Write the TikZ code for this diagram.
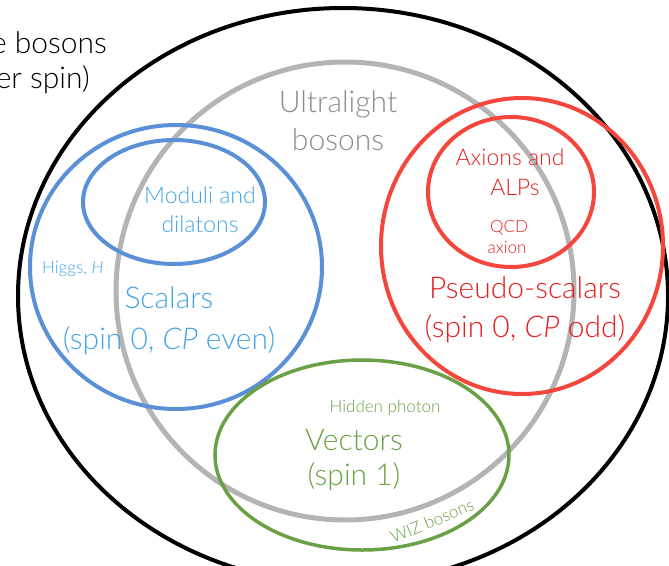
\documentclass[tikz,border=0pt]{standalone}
\usepackage{fontspec}
\setmainfont{Lato}[UprightFont=* Light, ItalicFont=* Light Italic]
\usetikzlibrary{positioning}

\definecolor{ulgray}{RGB}{180,180,180}
\definecolor{ultext}{RGB}{140,140,140}
\definecolor{scline}{RGB}{91,143,214}
\definecolor{sctext}{RGB}{70,165,230}
\definecolor{psline}{RGB}{244,70,60}
\definecolor{pstext}{RGB}{230,32,32}
\definecolor{vecline}{RGB}{106,160,70}

\tikzset{
  lbl/.style={inner sep=0pt, anchor=base},
  huge/.style={font=\fontsize{30}{36}\selectfont},
  mid/.style={font=\fontsize{23}{28}\selectfont},
  tiny/.style={font=\fontsize{17}{20}\selectfont},
}

\begin{document}
\begin{tikzpicture}[x=1pt,y=-1pt]
\useasboundingbox (0,0) rectangle (669,565);
\clip (0,0) rectangle (669,565);

% all bosons
\draw[line width=4pt] (343,296) ellipse (325 and 288);
% ultralight
\draw[ulgray,line width=5pt] (345,291) ellipse (229 and 229);
% scalars
\draw[scline,line width=4pt] (176,267) ellipse (146 and 142);
\draw[scline,line width=4pt] (174,202) ellipse (91 and 62);
% pseudo-scalars
\draw[psline,line width=4pt] (522,246) ellipse (141 and 148);
\draw[psline,line width=4pt] (511,192) ellipse (83 and 75);
% vectors
\draw[vecline,line width=3.5pt] (362,455) ellipse (147 and 95);

\node[lbl,huge,anchor=base east] (all1) at (107,53) {e bosons};
\node[lbl,huge,anchor=base east] (all2) at (90,88) {er spin)};

\node[lbl,huge,ultext] (ultra1) at (338,112) {Ultralight};
\node[lbl,huge,ultext] (ultra2) at (338,150) {bosons};

\node[lbl,mid,sctext] (mod1) at (200,203) {Moduli and};
\node[lbl,mid,sctext] (mod2) at (200,232) {dilatons};
\node[lbl,tiny,sctext,anchor=base west] (higgs) at (42,273) {Higgs, \textit{H}};
\node[lbl,huge,sctext] (scal1) at (169,308) {Scalars};
\node[lbl,huge,sctext] (scal2) at (169,349) {(spin 0, \textit{CP} even)};

\node[lbl,mid,pstext] (axi1) at (510,165) {Axions and};
\node[lbl,mid,pstext] (axi2) at (515,195) {ALPs};
\node[lbl,tiny,pstext] (qcd1) at (509,232) {QCD};
\node[lbl,tiny,pstext] (qcd2) at (507,253) {axion};
\node[lbl,huge,pstext] (ps1) at (525,298) {Pseudo-scalars};
\node[lbl,huge,pstext] (ps2) at (525,337) {(spin 0, \textit{CP} odd)};

\node[lbl,tiny,vecline] (hid) at (385,412) {Hidden photon};
\node[lbl,huge,vecline] (vec1) at (354,450) {Vectors};
\node[lbl,huge,vecline] (vec2) at (354,485) {(spin 1)};
\node[tiny,vecline,inner sep=0pt,rotate=23] (wiz) at (432,521) {WIZ bosons};
\end{tikzpicture}
\end{document}
